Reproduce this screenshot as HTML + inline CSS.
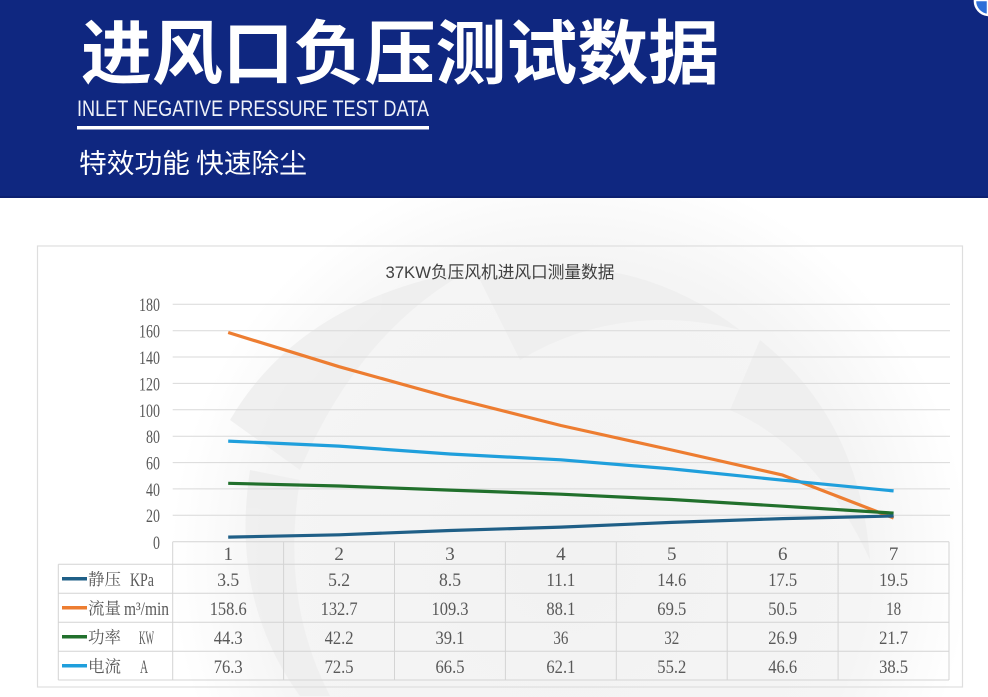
<!DOCTYPE html>
<html><head><meta charset="utf-8"><style>
html,body{margin:0;padding:0;background:#fff;width:988px;height:697px;overflow:hidden;}
svg{display:block;}
.num{font-family:"Liberation Serif","Noto Serif CJK SC",serif;font-size:19px;fill:#595959;}
.cjk{font-family:"Liberation Serif","Noto Serif CJK SC",serif;font-size:16.5px;fill:#595959;}
</style></head><body>
<svg width="988" height="697" viewBox="0 0 988 697" xmlns="http://www.w3.org/2000/svg">
<defs>
<radialGradient id="wm" gradientUnits="userSpaceOnUse" cx="570" cy="560" r="400">
<stop offset="0" stop-color="#f2f2f2"/>
<stop offset="0.75" stop-color="#f5f5f5"/>
<stop offset="1" stop-color="#ffffff"/>
</radialGradient>
<clipPath id="frame"><rect x="0" y="0" width="988" height="697"/></clipPath>
</defs>
<g clip-path="url(#frame)">
<!-- watermark -->
<rect x="0" y="198" width="988" height="499" fill="url(#wm)"/>
<g fill="#eeeeee" opacity="0.8">
<path d="M230 420 Q300 300 470 270 Q360 330 300 470 Z"/>
<path d="M480 280 Q620 240 740 330 Q620 300 520 360 Z"/>
<path d="M760 340 Q860 420 870 560 Q820 450 730 410 Z"/>
<path d="M300 480 Q280 600 330 696 L300 696 Q230 600 250 470 Z"/>
</g>
<!-- header -->
<rect x="0" y="0" width="988" height="198" fill="#0f2780"/>
<rect x="0" y="196" width="988" height="2" fill="#0c2070"/>
<text x="81" y="78" textLength="638" lengthAdjust="spacingAndGlyphs" font-family="'Noto Sans CJK SC',sans-serif" font-weight="bold" font-size="70" fill="#ffffff">进风口负压测试数据</text>
<text x="77" y="116" textLength="352" lengthAdjust="spacingAndGlyphs" font-family="'Liberation Sans',sans-serif" font-size="22" fill="#eef1f8">INLET NEGATIVE PRESSURE TEST DATA</text>
<rect x="77" y="126" width="352" height="3.5" fill="#ffffff"/>
<text x="79" y="173" textLength="228" lengthAdjust="spacingAndGlyphs" font-family="'Noto Sans CJK SC',sans-serif" font-size="27" fill="#ffffff">特效功能 快速除尘</text>
<path d="M975 0 A14 14 0 0 0 988 15 L988 0 Z" fill="#2d6fd8" stroke="#ffffff" stroke-width="2.5"/>
</g>
<!-- chart box -->
<rect x="37.5" y="246" width="925" height="441" fill="none" stroke="#dedede" stroke-width="1.2"/>
<text x="385.5" y="278" textLength="229" lengthAdjust="spacingAndGlyphs" font-family="'Liberation Sans','Noto Sans CJK SC',sans-serif" font-size="17" fill="#404040">37KW负压风机进风口测量数据</text>
<!-- gridlines -->
<g stroke="#d9d9d9" stroke-width="1">
<line x1="172.7" x2="950" y1="304.3" y2="304.3"/>
<line x1="172.7" x2="950" y1="330.7" y2="330.7"/>
<line x1="172.7" x2="950" y1="357.0" y2="357.0"/>
<line x1="172.7" x2="950" y1="383.4" y2="383.4"/>
<line x1="172.7" x2="950" y1="409.8" y2="409.8"/>
<line x1="172.7" x2="950" y1="436.2" y2="436.2"/>
<line x1="172.7" x2="950" y1="462.6" y2="462.6"/>
<line x1="172.7" x2="950" y1="488.9" y2="488.9"/>
<line x1="172.7" x2="950" y1="515.3" y2="515.3"/>
</g>
<!-- y labels -->
<g class="num" text-anchor="end">
<text x="160" y="311" textLength="21" lengthAdjust="spacingAndGlyphs">180</text>
<text x="160" y="337.5" textLength="21" lengthAdjust="spacingAndGlyphs">160</text>
<text x="160" y="364" textLength="21" lengthAdjust="spacingAndGlyphs">140</text>
<text x="160" y="390.5" textLength="21" lengthAdjust="spacingAndGlyphs">120</text>
<text x="160" y="417" textLength="21" lengthAdjust="spacingAndGlyphs">100</text>
<text x="160" y="443" textLength="14" lengthAdjust="spacingAndGlyphs">80</text>
<text x="160" y="469.5" textLength="14" lengthAdjust="spacingAndGlyphs">60</text>
<text x="160" y="496" textLength="14" lengthAdjust="spacingAndGlyphs">40</text>
<text x="160" y="522" textLength="14" lengthAdjust="spacingAndGlyphs">20</text>
<text x="160" y="549" textLength="7" lengthAdjust="spacingAndGlyphs">0</text>
</g>
<!-- table -->
<g stroke="#d4d4d4" stroke-width="1" fill="none">
<line x1="172.7" x2="949" y1="541.7" y2="541.7"/>
<line x1="58.3" x2="949" y1="564.3" y2="564.3"/>
<line x1="58.3" x2="949" y1="593.3" y2="593.3"/>
<line x1="58.3" x2="949" y1="622.3" y2="622.3"/>
<line x1="58.3" x2="949" y1="651.3" y2="651.3"/>
<line x1="58.3" x2="949" y1="680" y2="680"/>
<line x1="58.3" x2="58.3" y1="564.3" y2="680"/>
<line x1="172.7" x2="172.7" y1="541.7" y2="680"/>
<line x1="283.6" x2="283.6" y1="541.7" y2="680"/>
<line x1="394.5" x2="394.5" y1="541.7" y2="680"/>
<line x1="505.4" x2="505.4" y1="541.7" y2="680"/>
<line x1="616.3" x2="616.3" y1="541.7" y2="680"/>
<line x1="727.2" x2="727.2" y1="541.7" y2="680"/>
<line x1="838.1" x2="838.1" y1="541.7" y2="680"/>
<line x1="949" x2="949" y1="541.7" y2="680"/>
</g>
<!-- series lines -->
<g fill="none" stroke-width="3.2" stroke-linejoin="round" stroke-linecap="butt">
<polyline stroke="#ed7d31" points="228.2,332.5 339.1,366.7 450,397.5 560.9,425.5 671.8,450 782.7,475.1 893.6,518"/>
<polyline stroke="#1f9fdc" points="228.2,441.1 339.1,446.1 450,454 560.9,459.8 671.8,468.9 782.7,480.2 893.6,490.9"/>
<polyline stroke="#21702c" points="228.2,483.3 339.1,486 450,490.1 560.9,494.2 671.8,499.5 782.7,506.2 893.6,513.1"/>
<polyline stroke="#1f5f87" points="228.2,537.1 339.1,534.8 450,530.5 560.9,527.1 671.8,522.4 782.7,518.6 893.6,516"/>
</g>
<!-- header numbers -->
<g class="num" text-anchor="middle">
<text x="228.2" y="560">1</text>
<text x="339.1" y="560">2</text>
<text x="450" y="560">3</text>
<text x="560.9" y="560">4</text>
<text x="671.8" y="560">5</text>
<text x="782.7" y="560">6</text>
<text x="893.6" y="560">7</text>
</g>
<!-- data rows -->
<g class="num" text-anchor="middle">
<text x="228.2" y="586" textLength="22" lengthAdjust="spacingAndGlyphs">3.5</text>
<text x="339.1" y="586" textLength="22" lengthAdjust="spacingAndGlyphs">5.2</text>
<text x="450" y="586" textLength="22" lengthAdjust="spacingAndGlyphs">8.5</text>
<text x="560.9" y="586" textLength="29" lengthAdjust="spacingAndGlyphs">11.1</text>
<text x="671.8" y="586" textLength="29" lengthAdjust="spacingAndGlyphs">14.6</text>
<text x="782.7" y="586" textLength="29" lengthAdjust="spacingAndGlyphs">17.5</text>
<text x="893.6" y="586" textLength="29" lengthAdjust="spacingAndGlyphs">19.5</text>

<text x="228.2" y="615" textLength="37" lengthAdjust="spacingAndGlyphs">158.6</text>
<text x="339.1" y="615" textLength="37" lengthAdjust="spacingAndGlyphs">132.7</text>
<text x="450" y="615" textLength="37" lengthAdjust="spacingAndGlyphs">109.3</text>
<text x="560.9" y="615" textLength="29" lengthAdjust="spacingAndGlyphs">88.1</text>
<text x="671.8" y="615" textLength="29" lengthAdjust="spacingAndGlyphs">69.5</text>
<text x="782.7" y="615" textLength="29" lengthAdjust="spacingAndGlyphs">50.5</text>
<text x="893.6" y="615" textLength="15" lengthAdjust="spacingAndGlyphs">18</text>

<text x="228.2" y="644" textLength="29" lengthAdjust="spacingAndGlyphs">44.3</text>
<text x="339.1" y="644" textLength="29" lengthAdjust="spacingAndGlyphs">42.2</text>
<text x="450" y="644" textLength="29" lengthAdjust="spacingAndGlyphs">39.1</text>
<text x="560.9" y="644" textLength="15" lengthAdjust="spacingAndGlyphs">36</text>
<text x="671.8" y="644" textLength="15" lengthAdjust="spacingAndGlyphs">32</text>
<text x="782.7" y="644" textLength="29" lengthAdjust="spacingAndGlyphs">26.9</text>
<text x="893.6" y="644" textLength="29" lengthAdjust="spacingAndGlyphs">21.7</text>

<text x="228.2" y="673" textLength="29" lengthAdjust="spacingAndGlyphs">76.3</text>
<text x="339.1" y="673" textLength="29" lengthAdjust="spacingAndGlyphs">72.5</text>
<text x="450" y="673" textLength="29" lengthAdjust="spacingAndGlyphs">66.5</text>
<text x="560.9" y="673" textLength="29" lengthAdjust="spacingAndGlyphs">62.1</text>
<text x="671.8" y="673" textLength="29" lengthAdjust="spacingAndGlyphs">55.2</text>
<text x="782.7" y="673" textLength="29" lengthAdjust="spacingAndGlyphs">46.6</text>
<text x="893.6" y="673" textLength="29" lengthAdjust="spacingAndGlyphs">38.5</text>
</g>
<!-- legend cells -->
<g stroke-width="3.5">
<line x1="62" x2="87" y1="578.8" y2="578.8" stroke="#1f5f87"/>
<line x1="62" x2="87" y1="607.8" y2="607.8" stroke="#ed7d31"/>
<line x1="62" x2="87" y1="636.8" y2="636.8" stroke="#21702c"/>
<line x1="62" x2="87" y1="665.8" y2="665.8" stroke="#1f9fdc"/>
</g>
<g class="cjk">
<text x="88" y="585">静压</text>
<text x="88" y="614">流量</text>
<text x="88" y="643">功率</text>
<text x="88" y="672">电流</text>
</g>
<g class="num">
<text x="130" y="586" textLength="24" lengthAdjust="spacingAndGlyphs">KPa</text>
<text x="124" y="615" textLength="45" lengthAdjust="spacingAndGlyphs">m³/min</text>
<text x="139" y="644" textLength="15" lengthAdjust="spacingAndGlyphs">KW</text>
<text x="140" y="673" textLength="8" lengthAdjust="spacingAndGlyphs">A</text>
</g>
</svg>
</body></html>
